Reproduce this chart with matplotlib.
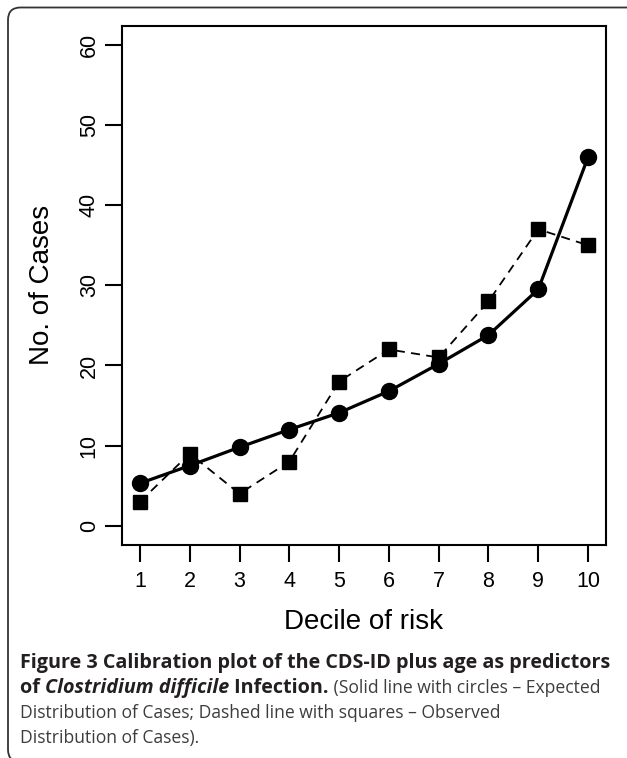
import matplotlib
matplotlib.use("Agg")
import matplotlib.pyplot as plt
from matplotlib.patches import FancyBboxPatch

deciles = [1, 2, 3, 4, 5, 6, 7, 8, 9, 10]
expected = [5.3, 7.5, 9.8, 12.0, 14.1, 16.8, 20.2, 23.8, 29.5, 46.0]
observed = [3, 9, 4, 8, 18, 22, 21, 28, 37, 35]
yticks = [0, 10, 20, 30, 40, 50, 60]
xlabel = "Decile of risk"
ylabel = "No. of Cases"

W, H = 627, 758
fig = plt.figure(figsize=(W / 100, H / 100), dpi=100)

# outer rounded frame
frame = FancyBboxPatch((8 / W, 1 - 762 / H), (640 - 8) / W, (762 - 7.5) / H,
                       boxstyle="round,pad=0,rounding_size=0.02",
                       transform=fig.transFigure, fill=False,
                       edgecolor="#333333", linewidth=1.3, mutation_aspect=W / H)
fig.patches.append(frame)

left, right, top, bottom = 122, 606, 25.7, 545
ax = fig.add_axes([left / W, 1 - bottom / H, (right - left) / W, (bottom - top) / H])

ax.plot(deciles, observed, color="black", linewidth=1.3, linestyle=(0, (5, 3.5)),
        marker="s", markersize=9.5, zorder=3)
ax.plot(deciles, expected, color="black", linewidth=2.3, linestyle="-",
        marker="o", markersize=11.5, zorder=4)

ax.set_xlim(0.64, 10.36)
ax.set_ylim(-2.4, 62.4)
ax.set_xticks(deciles)
ax.set_yticks(yticks)
for s in ax.spines.values():
    s.set_linewidth(1.5)
ax.tick_params(axis="both", length=12, width=1.5, labelsize=15.5, direction="out")
ax.tick_params(axis="x", pad=7)
ax.tick_params(axis="y", pad=4)
for lab in ax.get_xticklabels() + ax.get_yticklabels():
    lab.set_family("Liberation Sans")
for lab in ax.get_yticklabels():
    lab.set_rotation(90)
    lab.set_va("center")

ax.set_xlabel(xlabel, fontsize=20, family="Liberation Sans")
ax.xaxis.set_label_coords(0.5, (bottom - 622) / (bottom - top), transform=ax.transAxes)
ax.xaxis.label.set_va("center")
ax.set_ylabel(ylabel, fontsize=20, family="Liberation Sans")
ax.yaxis.set_label_coords((42 - left) / (right - left), 0.5)
ax.yaxis.label.set_va("center")

# caption
bold_col = "#231f20"
reg_col = "#3d3d3d"
fam_b = "Open Sans"
fam_r = "Open Sans"
x0 = 20
base = [668, 693, 718, 743]
line1 = "Figure 3 Calibration plot of the CDS-ID plus age as predictors"
line3 = "Distribution of Cases; Dashed line with squares \u2013 Observed"
line4 = "Distribution of Cases)."

fig.canvas.draw()
r = fig.canvas.get_renderer()


def put(x, y, txt, fs, wt="normal", st="normal", col=reg_col):
    fam = fam_b if wt == "bold" else fam_r
    t = fig.text(x / W, 1 - y / H, txt, fontsize=fs, weight=wt, style=st,
                 family=fam, color=col, va="baseline", ha="left")
    return t


def fit(txt, width, wt):
    t = put(0, 0, txt, 13, wt)
    w = t.get_window_extent(r).width
    t.remove()
    return 13 * width / w


fs_b = fit(line1, 586, "bold")
fs_r = fit(line3, 478, "normal")

put(x0, base[0], line1, fs_b, "bold", col=bold_col)

parts = [("of ", "bold", "normal", bold_col, fs_b),
         ("Clostridium difficile", "bold", "italic", bold_col, fs_b),
         (" Infection.", "bold", "normal", bold_col, fs_b),
         (" (Solid line with circles \u2013 Expected", "normal", "normal", reg_col, fs_r)]
xcur = x0
for txt, wt, st, col, fs in parts:
    t = put(xcur, base[1], txt, fs, wt, st, col)
    xcur = t.get_window_extent(r).x1

put(x0, base[2], line3, fs_r)
put(x0, base[3], line4, fs_r)

fig.savefig("out.png", dpi=100)
